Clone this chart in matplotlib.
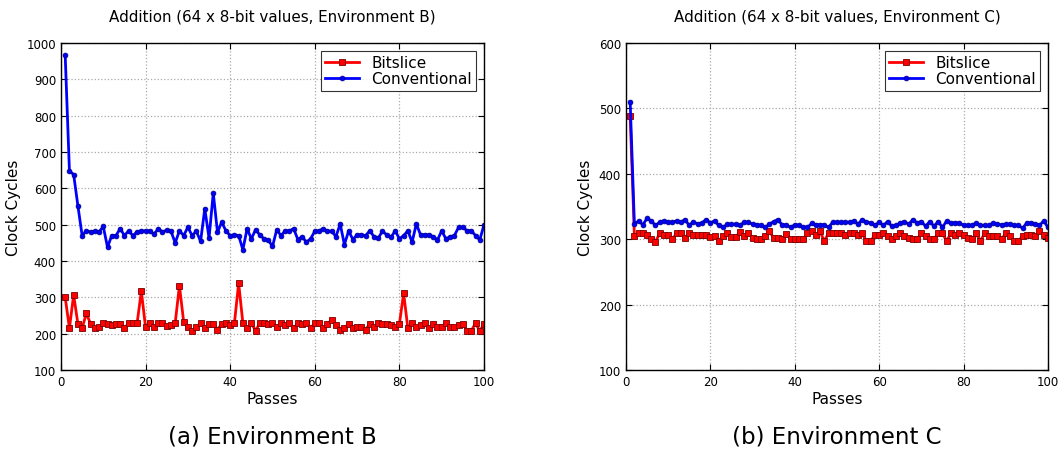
import matplotlib
matplotlib.use("Agg")
import matplotlib.pyplot as plt

# Clock cycles per pass, 100 passes each
passes = list(range(1, 101))

bitslice_b = [
    300, 215, 307, 227, 215, 256, 227, 215, 217, 229,
    227, 224, 227, 227, 215, 229, 229, 229, 317, 217,
    229, 217, 229, 229, 222, 224, 229, 332, 233, 217,
    207, 217, 229, 215, 227, 227, 211, 227, 229, 224,
    229, 339, 229, 215, 229, 208, 229, 229, 227, 229,
    217, 229, 224, 229, 215, 229, 227, 229, 215, 229,
    229, 215, 227, 238, 224, 211, 215, 227, 215, 217,
    217, 211, 227, 217, 229, 227, 227, 224, 217, 227,
    311, 215, 229, 217, 224, 229, 215, 227, 217, 217,
    229, 217, 217, 224, 227, 208, 208, 229, 207, 227,
]
conventional_b = [
    966, 648, 638, 552, 470, 483, 480, 482, 480, 495,
    438, 470, 470, 489, 470, 483, 470, 480, 483, 483,
    482, 474, 489, 480, 485, 482, 450, 483, 470, 493,
    470, 482, 454, 544, 463, 587, 479, 507, 483, 470,
    472, 470, 431, 489, 461, 486, 472, 461, 458, 440,
    486, 470, 483, 483, 489, 459, 467, 452, 461, 482,
    483, 489, 482, 482, 467, 502, 445, 483, 459, 472,
    472, 470, 483, 467, 463, 482, 472, 465, 483, 461,
    470, 483, 452, 502, 472, 472, 472, 467, 458, 483,
    461, 467, 470, 493, 493, 483, 483, 470, 458, 500,
]

bitslice_c = [
    488, 305, 309, 309, 306, 300, 296, 309, 306, 306,
    300, 309, 309, 302, 309, 307, 307, 307, 307, 303,
    305, 297, 305, 309, 303, 303, 311, 305, 309, 302,
    300, 300, 305, 312, 302, 302, 300, 308, 300, 300,
    300, 300, 309, 312, 306, 312, 297, 309, 309, 309,
    309, 307, 309, 309, 307, 309, 297, 297, 307, 307,
    309, 305, 300, 305, 309, 305, 302, 300, 300, 309,
    305, 300, 300, 309, 309, 297, 309, 307, 309, 306,
    302, 300, 309, 297, 309, 305, 305, 305, 300, 309,
    305, 297, 297, 305, 307, 307, 305, 312, 307, 302,
]
conventional_c = [
    510, 323, 328, 322, 332, 328, 321, 326, 328, 326,
    326, 328, 326, 330, 321, 327, 323, 325, 330, 325,
    328, 321, 318, 323, 323, 323, 321, 326, 326, 323,
    322, 321, 318, 323, 327, 330, 322, 322, 318, 322,
    321, 318, 318, 324, 322, 322, 322, 318, 326, 326,
    326, 326, 326, 328, 323, 330, 326, 325, 321, 326,
    321, 327, 320, 321, 325, 327, 323, 330, 325, 327,
    320, 327, 320, 327, 318, 328, 325, 325, 325, 321,
    321, 321, 325, 321, 321, 321, 325, 323, 322, 323,
    323, 321, 321, 317, 325, 325, 323, 321, 328, 318,
]

plt.rcParams['font.family'] = ['DejaVu Sans']
plt.rcParams['xtick.direction'] = 'in'
plt.rcParams['ytick.direction'] = 'in'
plt.rcParams['xtick.top'] = True
plt.rcParams['ytick.right'] = True
plt.rcParams['xtick.major.size'] = 4
plt.rcParams['ytick.major.size'] = 4

fig = plt.figure(figsize=(10.64, 4.52), dpi=100)
ax_b = fig.add_axes([0.0573, 0.1792, 0.3976, 0.7235])
ax_c = fig.add_axes([0.5883, 0.1792, 0.3966, 0.7235])


def draw_panel(ax, bitslice, conventional, env, ylim, caption):
    ax.plot(passes, bitslice, color='red', linewidth=2, marker='s',
            markersize=4.5, markeredgecolor='#7a0000', markeredgewidth=0.6,
            label='Bitslice')
    ax.plot(passes, conventional, color='blue', linewidth=2, marker='o',
            markersize=3.5, markeredgecolor='#000080', markeredgewidth=0.5,
            label='Conventional')
    ax.set_xlim(0, 100)
    ax.set_ylim(*ylim)
    ax.set_xticks(range(0, 101, 20))
    ax.set_yticks(range(ylim[0], ylim[1] + 1, 100))
    ax.tick_params(labelsize=8.5)
    ax.grid(True, linestyle=':', color='#aaaaaa', linewidth=0.9)
    for spine in ax.spines.values():
        spine.set_linewidth(1.0)
    ax.set_title(f'Addition (64 x 8-bit values, Environment {env})',
                 fontsize=10.9, pad=16)
    ax.set_xlabel('Passes', fontsize=11, labelpad=2)
    ax.set_ylabel('Clock Cycles', fontsize=11, labelpad=4)
    leg = ax.legend(loc='upper right', fontsize=11, fancybox=False,
                    handlelength=2.2, borderpad=0.3, labelspacing=0.05,
                    handletextpad=0.8, borderaxespad=0.5)
    leg.get_frame().set_edgecolor('black')
    leg.get_frame().set_linewidth(0.8)
    ax.text(0.5, -0.202, caption, transform=ax.transAxes, ha='center',
            va='center', fontsize=16.5)


draw_panel(ax_b, bitslice_b, conventional_b, 'B', (100, 1000),
           '(a) Environment B')
draw_panel(ax_c, bitslice_c, conventional_c, 'C', (100, 600),
           '(b) Environment C')

fig.savefig('out.png', dpi=100, facecolor='white')
